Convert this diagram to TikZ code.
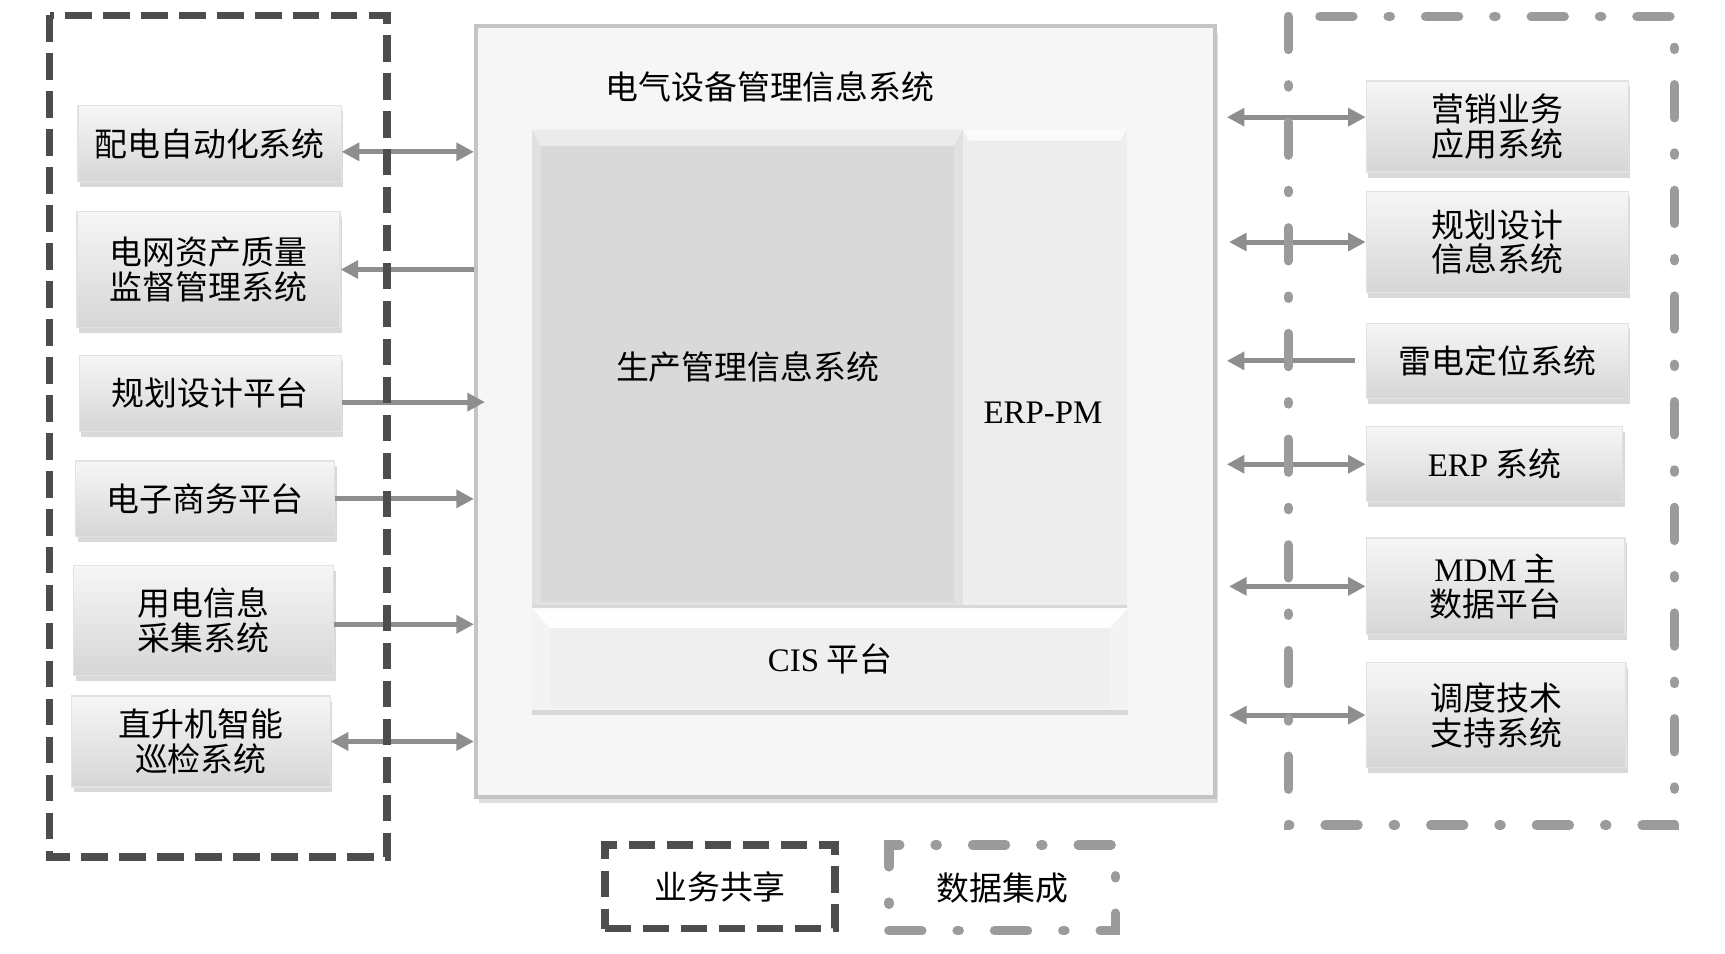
\documentclass[tikz,border=0pt]{standalone}
\usepackage{fontspec}
\setmainfont{Liberation Serif}
\newfontfamily\cjk{Noto Sans CJK SC}
\usetikzlibrary{arrows.meta}
\usetikzlibrary{shadows}

\definecolor{framedark}{HTML}{4D4D4D}
\definecolor{framelight}{HTML}{9B9B9B}
\definecolor{linkgray}{HTML}{8E8E8E}
\definecolor{boxtop}{HTML}{F6F6F6}
\definecolor{boxbottom}{HTML}{D6D6D6}
\definecolor{boxline}{HTML}{E2E2E2}
\definecolor{mainfill}{HTML}{F6F6F6}
\definecolor{mainline}{HTML}{C4C4C4}
\definecolor{pmside}{HTML}{E1E1E1}
\definecolor{pmtop}{HTML}{EBEBEB}
\definecolor{pmface}{HTML}{D9D9D9}
\definecolor{erpside}{HTML}{EEEEEE}
\definecolor{erptop}{HTML}{FAFAFA}
\definecolor{erpface}{HTML}{ECECEC}
\definecolor{cisside}{HTML}{F3F3F3}
\definecolor{cistop}{HTML}{FEFEFE}
\definecolor{cisface}{HTML}{EFEFEF}

\newcommand\boxfont{\cjk\fontsize{8.5}{9}\selectfont}

\tikzset{%
  sysbox/.style={rectangle, top color=boxtop, bottom color=boxbottom, draw=boxline,
    line width=0.3pt, align=center, font=\boxfont,
    drop shadow={shadow xshift=0.2mm, shadow yshift=-0.5mm, opacity=0.3}},
  link/.style={->, >={Triangle[length=1.6mm, width=1.6mm]}, draw=linkgray, line width=0.45mm},
  sharebox/.style={draw=framedark, line width=0.7mm, dash pattern=on 2.4mm off 1.05mm},
  databox/.style={draw=framelight, line width=0.85mm, line cap=round,
    dash pattern=on 3mm off 3.2mm on 0.2mm off 3.2mm},
  bevel/.style n args={5}{rectangle, fill=#1,
    drop shadow={shadow xshift=0mm, shadow yshift=-0.5mm, opacity=0.25},
    path picture={
      \fill[#2] (path picture bounding box.north west) -- (path picture bounding box.north east)
        -- ([shift={(-#5,-#4)}]path picture bounding box.north east)
        -- ([shift={(#5,-#4)}]path picture bounding box.north west) -- cycle;
      \fill[#3] ([shift={(#5,-#4)}]path picture bounding box.north west)
        rectangle ([shift={(-#5,0.3mm)}]path picture bounding box.south east);
    }}
}

\begin{document}
\begin{tikzpicture}[x=0.01cm, y=-0.01cm]
  \useasboundingbox (0,0) rectangle (1568,867);

  % central system
  \node[rectangle, fill=mainfill, draw=mainline, line width=0.4mm, minimum width=6.71cm,
    minimum height=7cm, drop shadow={shadow xshift=0.3mm, shadow yshift=-0.6mm, opacity=0.25}] (eqms) at (768.5,374) {};
  \node[font=\boxfont] (eqmstitle) at (700,79) {电气设备管理信息系统};
  \node[bevel={pmside}{pmtop}{pmface}{1.5mm}{0.8mm}, minimum width=3.91cm, minimum height=4.32cm,
    font=\boxfont] (pms) at (679.5,334) {生产管理信息系统};
  \node[bevel={erpside}{erptop}{erpface}{1mm}{0.6mm}, minimum width=1.49cm, minimum height=4.32cm] (erppm) at (949.5,334) {};
  \node[font=\fontsize{8.5}{9}\selectfont] (erppmtext) at (948,375) {ERP-PM};
  \node[bevel={cisside}{cistop}{cisface}{1.8mm}{1.6mm}, minimum width=5.41cm, minimum height=0.92cm,
    font=\boxfont] (cis) at (754.5,599) {{\rmfamily CIS} 平台};

  % left systems
  \node[sysbox, minimum width=2.39cm, minimum height=0.69cm] (dist) at (190.5,130.5) {配电自动化系统};
  \node[sysbox, minimum width=2.39cm, minimum height=1.06cm] (grid) at (189.5,245) {电网资产质量\\监督管理系统};
  \node[sysbox, minimum width=2.38cm, minimum height=0.69cm] (plan) at (191,357.5) {规划设计平台};
  \node[sysbox, minimum width=2.35cm, minimum height=0.69cm] (ecom) at (186.5,453.5) {电子商务平台};
  \node[sysbox, minimum width=2.36cm, minimum height=1cm] (meter) at (185,564) {用电信息\\采集系统};
  \node[sysbox, minimum width=2.35cm, minimum height=0.82cm] (heli) at (182.5,674) {直升机智能\\巡检系统};

  % right systems
  \node[sysbox, minimum width=2.38cm, minimum height=0.82cm] (sales) at (1361,115) {营销业务\\应用系统};
  \node[sysbox, minimum width=2.38cm, minimum height=0.92cm] (design) at (1361,220) {规划设计\\信息系统};
  \node[sysbox, minimum width=2.38cm, minimum height=0.68cm] (ltng) at (1361,328) {雷电定位系统};
  \node[sysbox, minimum width=2.33cm, minimum height=0.68cm] (erp) at (1358.5,422) {{\rmfamily ERP} 系统};
  \node[sysbox, minimum width=2.35cm, minimum height=0.88cm] (mdm) at (1359.5,533) {{\rmfamily MDM} 主\\数据平台};
  \node[sysbox, minimum width=2.36cm, minimum height=0.96cm] (dispatch) at (1360,650) {调度技术\\支持系统};

  % links
  \draw[link,<->] ([yshift=-0.075cm]dist.east) -- ([yshift=-0.075cm]dist.east -| eqms.west);
  \draw[link] (grid.east -| eqms.west) -- (grid.east);
  \draw[link] ([yshift=-0.08cm]plan.east) -- ([shift={(0.1cm,-0.08cm)}]plan.east -| eqms.west);
  \draw[link] (ecom.east) -- (ecom.east -| eqms.west);
  \draw[link] ([yshift=-0.035cm]meter.east) -- ([yshift=-0.035cm]meter.east -| eqms.west);
  \draw[link,<->] (heli.east) -- (heli.east -| eqms.west);

  \draw[link,<->] ([yshift=0.085cm]sales.west) -- ([shift={(0.09cm,0.085cm)}]sales.west -| eqms.east);
  \draw[link,<->] (design.west) -- ([xshift=0.11cm]design.west -| eqms.east);
  \draw[link] ([xshift=-0.1cm]ltng.west) -- ([xshift=0.09cm]ltng.west -| eqms.east);
  \draw[link,<->] (erp.west) -- ([xshift=0.09cm]erp.west -| eqms.east);
  \draw[link,<->] (mdm.west) -- ([xshift=0.11cm]mdm.west -| eqms.east);
  \draw[link,<->] (dispatch.west) -- ([xshift=0.11cm]dispatch.west -| eqms.east);

  % groups
  \draw[sharebox] (45,14) rectangle (352,779);
  \draw[databox] (1171,15) rectangle (1522,750);

  % legend
  \node[sharebox, minimum width=2.09cm, minimum height=0.76cm, font=\boxfont] (share) at (654.5,806) {业务共享};
  \node[databox, minimum width=2.06cm, minimum height=0.78cm, font=\boxfont] (integ) at (911,807) {数据集成};
\end{tikzpicture}
\end{document}
